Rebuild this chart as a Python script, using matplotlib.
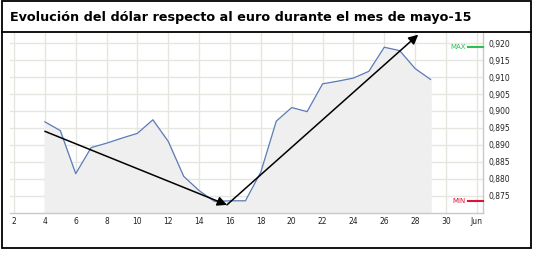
import numpy as np
import matplotlib
matplotlib.use('Agg')
import matplotlib.pyplot as plt
from matplotlib.patches import Rectangle
from matplotlib.lines import Line2D

# USD/EUR daily rate, May 2015 (day of month)
days = [4, 5, 6, 7, 8, 9, 10, 11, 12, 13, 14, 15, 16, 17, 18, 19, 20, 21, 22,
        23, 24, 25, 26, 27, 28, 29]
rate = [0.8968, 0.8942, 0.8815, 0.8892, 0.8905, 0.8920, 0.8934, 0.8974, 0.8910,
        0.8807, 0.8765, 0.8733, 0.8735, 0.8735, 0.8820, 0.8970, 0.9010, 0.8998,
        0.9080, 0.9088, 0.9097, 0.9117, 0.9188, 0.9178, 0.9125, 0.9093]

# trend arrows drawn over the chart (start, end)
trend_down = [(4.0, 0.8940), (15.8, 0.8723)]
trend_up = [(15.8, 0.8723), (28.2, 0.9225)]

xticks = [2, 4, 6, 8, 10, 12, 14, 16, 18, 20, 22, 24, 26, 28, 30, 32]
xticklabels = ['2', '4', '6', '8', '10', '12', '14', '16', '18', '20', '22',
               '24', '26', '28', '30', 'Jun']
yticks = [0.875, 0.880, 0.885, 0.890, 0.895, 0.900, 0.905, 0.910, 0.915, 0.920]

title = 'Evolución del dólar respecto al euro durante el mes de mayo-15'

fig = plt.figure(figsize=(5.35, 2.54), dpi=100)

# outer frame and title separator
fig.patches.append(Rectangle((2/535, 6/254), 529/535, 247/254, transform=fig.transFigure,
                             fill=False, edgecolor='black', linewidth=1.3))
fig.lines.append(Line2D([2/535, 531/535], [1-32/254, 1-32/254], transform=fig.transFigure,
                        color='black', linewidth=1.3))
fig.text(10/535, 1-17/254, title, fontsize=9.2, fontweight='bold', va='center', ha='left')

ax = fig.add_axes([10/535, 41/254, 473/535, 180/254])
ax.set_xlim(1.74, 32.4)
ax.set_ylim(0.8699, 0.9230)

ax.fill_between(days, rate, 0.8699, color='#efefef', zorder=1)
ax.plot(days, rate, color='#5b7cb8', linewidth=0.9, zorder=3)

for (x0, y0), (x1, y1) in [trend_down, trend_up]:
    ax.annotate('', xy=(x1, y1), xytext=(x0, y0),
                arrowprops=dict(arrowstyle='-|>', color='black', lw=1.1,
                                mutation_scale=14, shrinkA=0, shrinkB=0), zorder=4)

# MAX / MIN markers at the right axis
ax.plot([31.4, 32.4], [max(rate), max(rate)], color='#2fbf4f', lw=1.5, clip_on=False, zorder=5)
ax.text(31.3, max(rate), 'MAX', color='#2fbf4f', fontsize=5, ha='right', va='center')
ax.plot([31.4, 32.4], [min(rate), min(rate)], color='#e0103a', lw=1.5, clip_on=False, zorder=5)
ax.text(31.3, min(rate), 'MIN', color='#e0103a', fontsize=5, ha='right', va='center')

ax.set_xticks(xticks)
ax.set_xticklabels(xticklabels)
ax.set_yticks(yticks)
ax.set_yticklabels(['{:.3f}'.format(v).replace('.', ',') for v in yticks])
ax.yaxis.tick_right()
ax.tick_params(axis='both', length=0, labelsize=5.5, colors='#222222')
ax.tick_params(axis='y', pad=4)
ax.tick_params(axis='x', pad=3)

ax.grid(True, color='#e6e6e0', linewidth=1.0, zorder=0)
ax.set_axisbelow(True)
for s in ['left', 'top']:
    ax.spines[s].set_visible(False)
for s in ['right', 'bottom']:
    ax.spines[s].set_color('#c8c8c8')
    ax.spines[s].set_linewidth(1.0)

fig.savefig('out.png', dpi=100)
